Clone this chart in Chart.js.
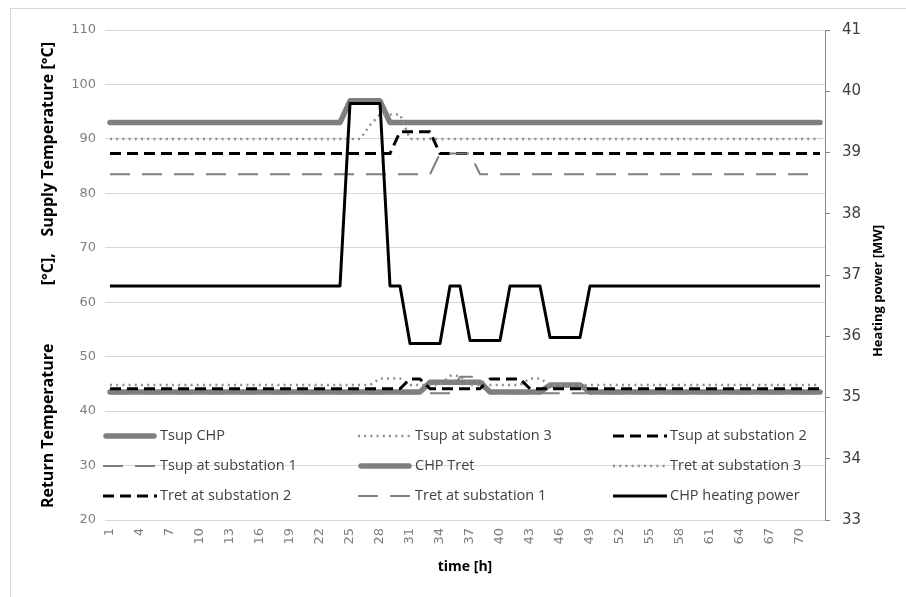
<!DOCTYPE html>
<html><head><meta charset="utf-8">
<script src="https://cdn.jsdelivr.net/npm/chart.js@4.4.0/dist/chart.umd.min.js"></script>
<style>html,body{margin:0;padding:0;background:#fff;}canvas{display:block}</style>
</head><body>
<canvas id="c" width="906" height="597"></canvas>
<script>
const hours = ['1','2','3','4','5','6','7','8','9','10','11','12',
 '13','14','15','16','17','18','19','20','21','22','23','24',
 '25','26','27','28','29','30','31','32','33','34','35','36',
 '37','38','39','40','41','42','43','44','45','46','47','48',
 '49','50','51','52','53','54','55','56','57','58','59','60',
 '61','62','63','64','65','66','67','68','69','70','71','72'];

const tsupCHP = [93,93,93,93,93,93,93,93,93,93,93,93,
 93,93,93,93,93,93,93,93,93,93,93,93,
 97,97,97,97,93,93,93,93,93,93,93,93,
 93,93,93,93,93,93,93,93,93,93,93,93,
 93,93,93,93,93,93,93,93,93,93,93,93,
 93,93,93,93,93,93,93,93,93,93,93,93];
const tsupSub3 = [90,90,90,90,90,90,90,90,90,90,90,90,
 90,90,90,90,90,90,90,90,90,90,90,90,
 90,90,92.5,94.5,94.5,94.5,90,90,90,90,90,90,
 90,90,90,90,90,90,90,90,90,90,90,90,
 90,90,90,90,90,90,90,90,90,90,90,90,
 90,90,90,90,90,90,90,90,90,90,90,90];
const tsupSub2 = [87.3,87.3,87.3,87.3,87.3,87.3,87.3,87.3,87.3,87.3,87.3,87.3,
 87.3,87.3,87.3,87.3,87.3,87.3,87.3,87.3,87.3,87.3,87.3,87.3,
 87.3,87.3,87.3,87.3,87.3,91.3,91.3,91.3,91.3,87.3,87.3,87.3,
 87.3,87.3,87.3,87.3,87.3,87.3,87.3,87.3,87.3,87.3,87.3,87.3,
 87.3,87.3,87.3,87.3,87.3,87.3,87.3,87.3,87.3,87.3,87.3,87.3,
 87.3,87.3,87.3,87.3,87.3,87.3,87.3,87.3,87.3,87.3,87.3,87.3];
const tsupSub1 = [83.5,83.5,83.5,83.5,83.5,83.5,83.5,83.5,83.5,83.5,83.5,83.5,
 83.5,83.5,83.5,83.5,83.5,83.5,83.5,83.5,83.5,83.5,83.5,83.5,
 83.5,83.5,83.5,83.5,83.5,83.5,83.5,83.5,83.5,87.3,87.3,87.3,
 87.3,83.5,83.5,83.5,83.5,83.5,83.5,83.5,83.5,83.5,83.5,83.5,
 83.5,83.5,83.5,83.5,83.5,83.5,83.5,83.5,83.5,83.5,83.5,83.5,
 83.5,83.5,83.5,83.5,83.5,83.5,83.5,83.5,83.5,83.5,83.5,83.5];
const tretCHP = [43.5,43.5,43.5,43.5,43.5,43.5,43.5,43.5,43.5,43.5,43.5,43.5,
 43.5,43.5,43.5,43.5,43.5,43.5,43.5,43.5,43.5,43.5,43.5,43.5,
 43.5,43.5,43.5,43.5,43.5,43.5,43.5,43.5,45.3,45.3,45.3,45.3,
 45.3,45.3,43.5,43.5,43.5,43.5,43.5,43.5,44.8,44.8,44.8,44.8,
 43.5,43.5,43.5,43.5,43.5,43.5,43.5,43.5,43.5,43.5,43.5,43.5,
 43.5,43.5,43.5,43.5,43.5,43.5,43.5,43.5,43.5,43.5,43.5,43.5];
const tretSub3 = [44.8,44.8,44.8,44.8,44.8,44.8,44.8,44.8,44.8,44.8,44.8,44.8,
 44.8,44.8,44.8,44.8,44.8,44.8,44.8,44.8,44.8,44.8,44.8,44.8,
 44.8,44.8,44.8,46.0,46.0,46.0,44.8,44.8,44.8,44.8,46.5,46.5,
 44.8,44.8,44.8,44.8,44.8,44.8,46.0,46.0,44.8,44.8,44.8,44.8,
 44.8,44.8,44.8,44.8,44.8,44.8,44.8,44.8,44.8,44.8,44.8,44.8,
 44.8,44.8,44.8,44.8,44.8,44.8,44.8,44.8,44.8,44.8,44.8,44.8];
const tretSub2 = [44.1,44.1,44.1,44.1,44.1,44.1,44.1,44.1,44.1,44.1,44.1,44.1,
 44.1,44.1,44.1,44.1,44.1,44.1,44.1,44.1,44.1,44.1,44.1,44.1,
 44.1,44.1,44.1,44.1,44.1,44.1,45.9,45.9,44.1,44.1,44.1,44.1,
 44.1,44.1,45.9,45.9,45.9,45.9,44.1,44.1,44.1,44.1,44.1,44.1,
 44.1,44.1,44.1,44.1,44.1,44.1,44.1,44.1,44.1,44.1,44.1,44.1,
 44.1,44.1,44.1,44.1,44.1,44.1,44.1,44.1,44.1,44.1,44.1,44.1];
const tretSub1 = [43.3,43.3,43.3,43.3,43.3,43.3,43.3,43.3,43.3,43.3,43.3,43.3,
 43.3,43.3,43.3,43.3,43.3,43.3,43.3,43.3,43.3,43.3,43.3,43.3,
 43.3,43.3,43.3,43.3,43.3,43.3,43.3,43.3,43.3,43.3,43.3,46.3,
 46.3,46.3,43.3,43.3,43.3,43.3,43.3,43.3,43.3,43.3,43.3,43.3,
 43.3,43.3,43.3,43.3,43.3,43.3,43.3,43.3,43.3,43.3,43.3,43.3,
 43.3,43.3,43.3,43.3,43.3,43.3,43.3,43.3,43.3,43.3,43.3,43.3];
const heatingPower = [36.82,36.82,36.82,36.82,36.82,36.82,36.82,36.82,36.82,36.82,36.82,36.82,
 36.82,36.82,36.82,36.82,36.82,36.82,36.82,36.82,36.82,36.82,36.82,36.82,
 39.8,39.8,39.8,39.8,36.82,36.82,35.88,35.88,35.88,35.88,36.82,36.82,
 35.93,35.93,35.93,35.93,36.82,36.82,36.82,36.82,35.98,35.98,35.98,35.98,
 36.82,36.82,36.82,36.82,36.82,36.82,36.82,36.82,36.82,36.82,36.82,36.82,
 36.82,36.82,36.82,36.82,36.82,36.82,36.82,36.82,36.82,36.82,36.82,36.82];

const seriesNames = ['Tsup CHP','Tsup at substation 3','Tsup at substation 2','Tsup at substation 1',
 'CHP Tret','Tret at substation 3','Tret at substation 2','Tret at substation 1','CHP heating power'];
const leftTitle = 'Return Temperature              [°C],    Supply Temperature [°C]';
const rightTitle = 'Heating power [MW]';

const GRAY = '#7f7f7f';
const DOT = '#8f8f8f';
const styles = {
  thick: {color: GRAY, width: 5.5, dash: [], cap: 'round'},
  dotted: {color: DOT, width: 2.5, dash: [2, 4.2], cap: 'butt'},
  blackDash: {color: '#000', width: 3, dash: [11, 6], cap: 'butt'},
  longDash: {color: GRAY, width: 2, dash: [20, 12], cap: 'butt'},
  solid: {color: '#000', width: 3, dash: [], cap: 'butt'}
};
const seriesStyle = ['thick','dotted','blackDash','longDash','thick','dotted','blackDash','longDash','solid'];
const seriesData = [tsupCHP, tsupSub3, tsupSub2, tsupSub1, tretCHP, tretSub3, tretSub2, tretSub1, heatingPower];

const datasets = seriesData.map((d, i) => {
  const s = styles[seriesStyle[i]];
  return {
    label: seriesNames[i], data: d,
    borderColor: s.color, backgroundColor: s.color, borderWidth: s.width,
    borderDash: s.dash, borderCapStyle: s.cap, borderJoinStyle: 'round',
    pointRadius: 0, tension: 0, fill: false,
    yAxisID: i === 8 ? 'y1' : 'y',
    order: 9 - i
  };
});

const frame = {
  id: 'frame',
  beforeDraw(chart) {
    const ctx = chart.ctx;
    ctx.save();
    ctx.fillStyle = '#fff';
    ctx.fillRect(0, 0, chart.width, chart.height);
    ctx.strokeStyle = '#d9d9d9';
    ctx.lineWidth = 1;
    ctx.strokeRect(10.5, 8.5, 920, 620);
    ctx.restore();
  }
};

const legendCols = [103, 358, 613];
const legendRows = [436, 466, 496];
const customLegend = {
  id: 'customLegend',
  afterDraw(chart) {
    const ctx = chart.ctx;
    ctx.save();
    seriesNames.forEach((name, i) => {
      const s = styles[seriesStyle[i]];
      const x = legendCols[i % 3], y = legendRows[Math.floor(i / 3)];
      ctx.beginPath();
      ctx.strokeStyle = s.color;
      ctx.lineWidth = s.width;
      ctx.setLineDash(s.dash);
      ctx.lineCap = s.cap;
      const len = 54;
      const x0 = s.cap === 'round' ? x + 3 : x;
      const x1 = s.cap === 'round' ? x + len - 3 : x + len;
      ctx.moveTo(x0, y);
      ctx.lineTo(x1, y);
      ctx.stroke();
      ctx.setLineDash([]);
      ctx.fillStyle = '#404040';
      ctx.font = "14.5px 'Open Sans'";
      ctx.textBaseline = 'middle';
      ctx.textAlign = 'left';
      ctx.fillText(name, x + len + 3, y);
    });
    // right axis title, reading bottom-to-top like the left one
    const y1 = chart.scales.y1;
    ctx.translate(y1.right - 28, 291);
    ctx.rotate(-Math.PI / 2);
    ctx.fillStyle = '#000';
    ctx.font = "bold 13px 'Open Sans'";
    ctx.textAlign = 'center';
    ctx.textBaseline = 'middle';
    ctx.fillText(rightTitle, 0, 0);
    ctx.restore();
  }
};

new Chart(document.getElementById('c'), {
  type: 'line',
  data: {labels: hours, datasets},
  plugins: [frame, customLegend],
  options: {
    responsive: false, animation: false, devicePixelRatio: 1,
    layout: {padding: {left: 39, right: 0, top: 30, bottom: 0}},
    plugins: {legend: {display: false}, tooltip: {enabled: false}},
    scales: {
      x: {
        offset: true,
        grid: {display: false, drawTicks: false},
        border: {display: false},
        ticks: {
          autoSkip: false, maxRotation: 90, minRotation: 90, padding: 8,
          color: '#7f7f7f', font: {family: "'DejaVu Sans'", size: 13},
          callback: function(v, idx) { return idx % 3 === 0 ? this.getLabelForValue(v) : ''; }
        },
        title: {display: true, text: 'time [h]', color: '#000', padding: {top: 0, bottom: 22},
          font: {family: "'Open Sans'", size: 14, weight: 'bold'}},
        afterFit(s) { s.height = 77; }
      },
      y: {
        position: 'left', min: 20, max: 110,
        ticks: {stepSize: 10, padding: 9, color: '#7f7f7f', font: {family: "'DejaVu Sans'", size: 13}},
        grid: {color: '#d9d9d9', lineWidth: 1, drawTicks: false},
        border: {display: false},
        title: {display: true, text: leftTitle, color: '#000',
          padding: {top: 0, bottom: 0}, font: {family: "'Open Sans'", size: 16, weight: 'bold'}},
        afterFit(s) { s.width = 66; }
      },
      y1: {
        position: 'right', min: 33, max: 41,
        ticks: {stepSize: 1, padding: 12, color: '#404040', font: {family: "'DejaVu Sans'", size: 15}},
        grid: {drawOnChartArea: false, color: '#868686', tickLength: 5},
        border: {display: true, color: '#868686', width: 1},
        title: {display: false},
        afterFit(s) { s.width = 81; }
      }
    }
  }
});
</script>
</body></html>
